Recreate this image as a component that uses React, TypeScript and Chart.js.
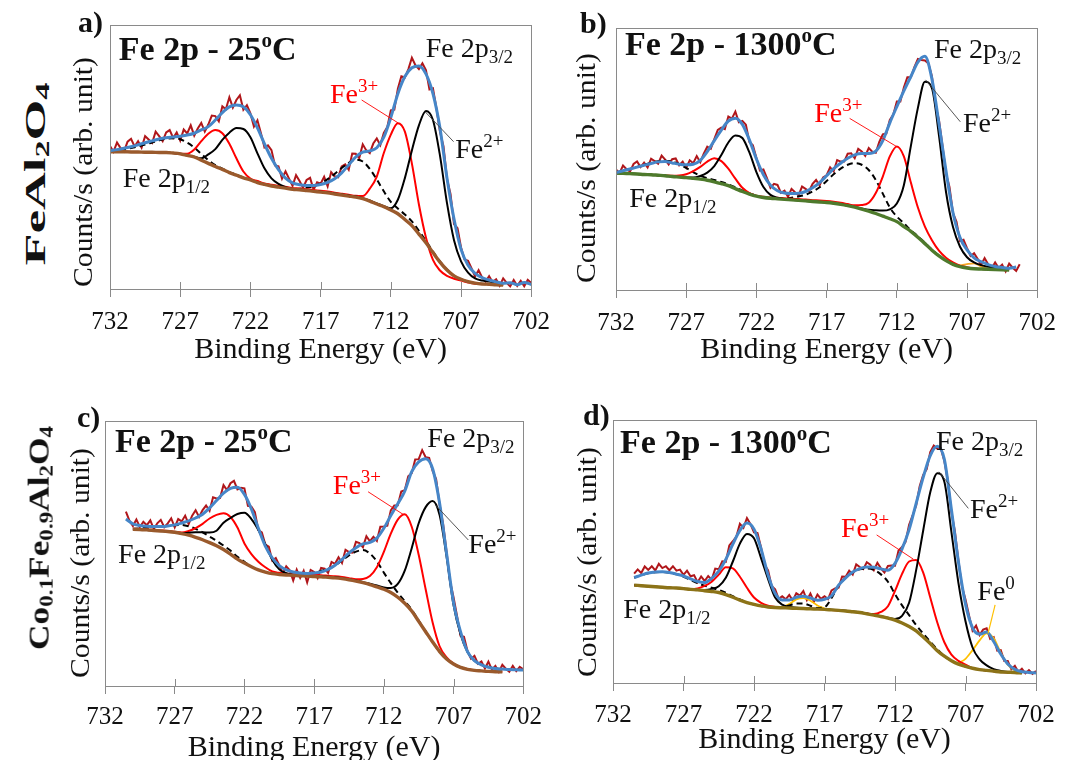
import React, { useEffect, useRef } from "react";
import { Chart, registerables } from "chart.js";
Chart.register(...registerables);

const FONT = '"Liberation Serif", "Times New Roman", Times, serif';

// ---------- shared energy grids (eV) ----------
const BE_FIT = [
  732, 731.5, 731, 730.5, 730, 729.5, 729, 728.5, 728, 727.5,
  727, 726.5, 726, 725.5, 725, 724.5, 724, 723.5, 723, 722.5,
  722, 721.5, 721, 720.5, 720, 719.5, 719, 718.5, 718, 717.5,
  717, 716.5, 716, 715.5, 715, 714.5, 714, 713.5, 713, 712.5,
  712, 711.5, 711, 710.5, 710, 709.5, 709, 708.5, 708, 707.5,
  707, 706.5, 706, 705.5, 705, 704.5, 704, 703.5, 703, 702.5, 702,
];
const BE_RAW = [
  732, 731.75, 731.5, 731.25, 731, 730.75, 730.5, 730.25, 730, 729.75,
  729.5, 729.25, 729, 728.75, 728.5, 728.25, 728, 727.75, 727.5, 727.25,
  727, 726.75, 726.5, 726.25, 726, 725.75, 725.5, 725.25, 725, 724.75,
  724.5, 724.25, 724, 723.75, 723.5, 723.25, 723, 722.75, 722.5, 722.25,
  722, 721.75, 721.5, 721.25, 721, 720.75, 720.5, 720.25, 720, 719.75,
  719.5, 719.25, 719, 718.75, 718.5, 718.25, 718, 717.75, 717.5, 717.25,
  717, 716.75, 716.5, 716.25, 716, 715.75, 715.5, 715.25, 715, 714.75,
  714.5, 714.25, 714, 713.75, 713.5, 713.25, 713, 712.75, 712.5, 712.25,
  712, 711.75, 711.5, 711.25, 711, 710.75, 710.5, 710.25, 710, 709.75,
  709.5, 709.25, 709, 708.75, 708.5, 708.25, 708, 707.75, 707.5, 707.25,
  707, 706.75, 706.5, 706.25, 706, 705.75, 705.5, 705.25, 705, 704.75,
  704.5, 704.25, 704, 703.75, 703.5, 703.25, 703, 702.75, 702.5, 702.25,
  702,
];
const TICK_VALUES = [732, 727, 722, 717, 712, 707, 702];

// ---------- panel a : FeAl2O4, 25 C ----------
const A_RAW = [
  54.2, 52.0, 55.5, 53.4, 52.1, 55.8, 56.9, 54.0, 56.0, 53.5,
  57.9, 56.6, 55.3, 59.6, 57.9, 56.0, 59.3, 60.2, 57.2, 59.3,
  56.2, 60.4, 58.9, 62.0, 58.1, 60.8, 62.9, 59.6, 62.3, 65.7,
  65.5, 63.5, 69.2, 68.1, 72.6, 68.7, 71.6, 73.4, 67.9, 69.6,
  66.5, 61.5, 63.9, 59.0, 53.6, 54.4, 52.6, 46.8, 46.5, 41.8,
  44.6, 41.8, 39.1, 43.1, 40.9, 38.4, 41.3, 42.1, 37.6, 40.4,
  39.9, 42.5, 38.9, 44.3, 42.7, 42.3, 46.4, 47.2, 45.2, 51.3,
  51.2, 49.6, 54.8, 52.5, 51.5, 55.1, 57.0, 54.5, 59.1, 61.4,
  67.7, 67.9, 75.9, 80.6, 80.1, 83.3, 87.6, 84.8, 83.3, 85.5,
  82.9, 75.6, 76.0, 68.3, 59.5, 54.1, 41.7, 36.0, 24.6, 23.0,
  15.7, 11.2, 10.7, 7.8, 4.7, 7.1, 4.4, 2.8, 4.9, 2.6,
  3.7, 1.2, 4.0, 2.3, 1.0, 3.4, 1.2, 3.1, 1.0, 3.5,
  2.3,
];
const A_ENV = [
  52.4, 52.8, 53.3, 53.9, 54.6, 55.4, 56.1, 56.8, 57.3, 57.6,
  57.9, 58.3, 59.0, 60.3, 61.5, 64.0, 66.8, 69.0, 69.7, 69.0,
  66.0, 61.0, 55.0, 49.5, 45.2, 42.0, 40.2, 39.5, 39.2, 39.2,
  39.6, 40.4, 41.8, 44.0, 47.0, 50.0, 51.8, 52.3, 53.5, 57.5,
  65.0, 74.0, 80.5, 83.8, 84.5, 81.5, 74.0, 61.0, 42.0, 26.5,
  15.0, 9.0, 5.9, 4.3, 3.4, 2.7, 2.2, 2.4, 1.6, 2.5,
  1.7,
];
const A_BG = [
  52.0, 52.0, 52.0, 51.9, 51.9, 51.8, 51.8, 51.7, 51.7, 51.5,
  51.2, 50.6, 50.0, 48.8, 47.6, 46.4, 45.3, 44.1, 43.1, 42.1,
  41.3, 40.3, 39.6, 39.0, 38.6, 38.2, 37.8, 37.6, 37.3, 37.0,
  36.7, 36.4, 36.0, 35.6, 35.2, 34.8, 34.2, 33.3, 32.2, 31.2,
  29.9, 28.5, 26.3, 24.0, 20.8, 17.5, 13.8, 10.2, 7.2, 5.0,
  3.7, 2.8, 2.2, 1.9, 1.8, 1.6, 1.5, null, null, null,
  null,
];
const A_FE2 = [
  52.0, 52.0, 52.0, 51.9, 51.9, 51.8, 51.8, 51.7, 51.7, 51.5,
  51.2, 50.6, 50.1, 49.5, 51.0, 53.0, 56.5, 59.2, 61.0, 60.6,
  57.5, 51.4, 45.7, 41.9, 39.8, 38.6, 37.9, 37.7, 37.4, 37.1,
  36.8, 36.6, 36.2, 35.8, 35.4, 35.0, 34.4, 33.5, 32.4, 31.4,
  30.6, 33.8, 42.0, 52.5, 62.0, 67.4, 64.0, 50.5, 32.5, 18.5,
  10.5, 6.2, 4.0, 3.2, 2.8, 2.3, 2.0, null, null, null,
  null,
];
const A_FE3 = [
  52.0, 52.0, 52.0, 51.9, 51.9, 51.8, 51.8, 51.7, 51.7, 51.5,
  51.2, 51.2, 52.8, 56.0, 58.8, 60.2, 59.0, 55.0, 49.5, 44.5,
  41.8, 40.9, 40.0, 39.5, 39.1, 38.7, 38.3, 38.1, 37.8, 37.5,
  37.2, 36.9, 36.5, 36.1, 35.7, 35.3, 35.2, 38.0, 42.6, 51.5,
  58.5, 62.8, 59.6, 47.5, 32.0, 19.5, 11.0, 7.0, 5.0, 3.9,
  3.2, 2.5, 2.0, 1.9, 1.8, 1.6, 1.5, null, null, null,
  null,
];
const A_SAT = [
  52.2, 52.5, 52.9, 53.4, 54.0, 54.7, 55.5, 56.3, 56.9, 57.1,
  56.7, 55.4, 53.6, 51.2, 48.8, 46.9, 45.6, 44.3, 43.3, 42.3,
  41.4, 40.5, 39.8, 39.2, 38.7, 38.2, 37.9, 38.0, 38.3, 38.9,
  40.0, 41.6, 43.6, 45.8, 47.8, 49.0, 48.3, 45.5, 41.5, 37.0,
  33.0, 30.5, 28.2, 25.6, 22.0, 18.2, 14.2, 10.5, 7.4, 5.0,
  3.7, 2.8, 2.2, 1.9, 1.8, 1.6, 1.5, null, null, null,
  null,
];

// ---------- panel b : FeAl2O4, 1300 C ----------
const B_RAW = [
  46.0, 44.6, 47.5, 46.1, 45.2, 48.1, 49.1, 46.9, 48.6, 46.8,
  50.1, 49.2, 48.2, 51.3, 49.8, 47.9, 49.9, 50.2, 47.6, 49.0,
  46.6, 49.5, 48.4, 51.1, 48.8, 52.0, 54.7, 53.9, 57.6, 61.1,
  62.0, 61.4, 66.2, 65.4, 68.1, 64.0, 64.5, 63.1, 56.5, 55.2,
  50.4, 45.6, 46.0, 42.7, 39.0, 40.5, 40.1, 37.1, 37.9, 35.6,
  38.6, 37.3, 36.1, 39.5, 38.6, 37.7, 40.5, 42.0, 39.9, 43.0,
  43.8, 46.8, 45.3, 49.6, 49.0, 49.0, 52.0, 52.2, 50.3, 53.9,
  52.9, 51.2, 54.2, 52.8, 52.4, 56.5, 59.4, 59.7, 64.9, 67.0,
  71.9, 71.9, 77.3, 81.2, 81.2, 85.1, 88.2, 87.8, 87.6, 86.5,
  81.5, 70.5, 64.9, 55.1, 44.5, 39.3, 29.3, 26.0, 18.7, 19.2,
  16.0, 13.0, 14.0, 11.9, 9.6, 12.2, 9.8, 8.3, 10.5, 8.4,
  9.7, 7.1, 10.1, 8.5, 7.3, 9.8, null, null, null, null,
  null,
];
const B_ENV = [
  44.8, 45.5, 46.2, 46.9, 47.6, 48.3, 48.9, 49.0, 48.5, 48.0,
  47.8, 48.0, 49.5, 52.8, 57.0, 61.0, 64.5, 65.6, 63.2, 57.3,
  50.0, 44.0, 40.0, 37.9, 37.0, 36.8, 36.9, 37.6, 39.0, 41.0,
  43.6, 46.3, 48.4, 50.3, 51.6, 52.1, 52.1, 53.0, 57.0, 63.8,
  70.0, 76.0, 81.5, 87.0, 89.2, 80.5, 63.5, 45.5, 29.5, 20.0,
  15.3, 12.3, 10.8, 9.7, 9.0, 8.6, 8.3, 8.8, null, null,
  null,
];
const B_BG = [
  44.6, 44.5, 44.4, 44.3, 44.1, 44.0, 43.8, 43.6, 43.3, 43.1,
  42.9, 42.6, 42.3, 41.9, 41.3, 40.6, 39.8, 38.7, 37.6, 36.6,
  35.8, 35.3, 35.0, 34.8, 34.6, 34.4, 34.2, 34.0, 33.8, 33.6,
  33.4, 33.1, 32.7, 32.2, 31.6, 30.9, 30.1, 29.2, 28.2, 27.2,
  26.1, 24.2, 22.4, 20.1, 17.7, 15.2, 13.0, 11.2, 9.8, 8.9,
  8.4, 8.1, 8.0, 7.9, 7.8, 7.7, 7.6, null, null, null,
  null,
];
const B_FE2 = [
  44.6, 44.5, 44.4, 44.3, 44.1, 44.0, 43.8, 43.6, 43.3, 43.1,
  42.9, 42.9, 43.5, 44.8, 47.3, 51.5, 56.3, 59.0, 58.0, 52.5,
  45.0, 39.3, 36.3, 35.2, 34.7, 34.4, 34.2, 34.0, 33.8, 33.6,
  33.4, 33.1, 32.7, 32.2, 31.7, 31.1, 30.6, 30.4, 30.3, 30.8,
  33.0, 40.0, 55.0, 69.5, 79.5, 77.0, 59.0, 37.5, 24.0, 16.5,
  12.5, 10.5, 9.5, 8.9, 8.5, 8.2, 7.9, null, null, null,
  null,
];
const B_FE3 = [
  44.6, 44.5, 44.4, 44.3, 44.1, 44.0, 43.8, 43.7, 43.6, 43.7,
  44.2, 45.4, 47.0, 49.0, 50.3, 49.2, 46.3, 42.5, 39.0, 37.0,
  36.0, 35.6, 35.3, 35.2, 35.0, 34.8, 34.7, 34.5, 34.3, 34.2,
  34.0, 33.7, 33.3, 32.8, 32.3, 32.4, 33.3, 37.0, 43.3, 51.0,
  54.8, 51.0, 41.0, 31.5, 24.2, 19.0, 15.0, 12.3, 10.5, 9.3,
  8.7, 8.2, 8.0, 7.9, 7.8, 7.7, 7.6, null, null, null,
  null,
];
const B_SAT = [
  44.8, 45.5, 46.2, 47.0, 47.8, 48.5, 49.1, 49.3, 49.0, 48.0,
  46.6, 45.0, 43.6, 42.7, 42.0, 41.2, 40.3, 39.2, 38.0, 36.9,
  36.0, 35.3, 35.0, 34.9, 34.9, 35.2, 35.7, 36.4, 37.6, 39.2,
  41.6, 44.2, 46.3, 47.8, 48.4, 47.8, 45.8, 42.0, 36.8, 31.5,
  28.0, 25.5, 22.8, 20.5, 18.0, 15.4, 13.1, 11.2, 9.8, 8.9,
  8.4, 8.1, 8.0, 7.9, 7.8, 7.7, 7.6, null, null, null,
  null,
];
const B_FE0 = [
  null, null, null, null, null, null, null, null, null, null,
  null, null, null, null, null, null, null, null, null, null,
  null, null, null, null, null, null, null, null, null, null,
  null, null, null, null, null, null, null, null, null, null,
  null, null, null, null, null, null, null, null, 9.8, 9.4,
  9.9, 10.2, 9.0, 8.1, null, null, null, null, null, null,
  null,
];

// ---------- panel c : Co0.1Fe0.9Al2O4, 25 C ----------
const C_RAW = [
  null, null, null, null, null, null, 65.8, 62.4, 60.4, 62.8,
  60.0, 62.0, 60.7, 62.5, 59.2, 61.4, 62.7, 59.9, 61.4, 63.3,
  59.9, 63.0, 62.1, 64.3, 61.1, 64.3, 66.3, 63.8, 66.4, 68.1,
  66.1, 71.2, 70.8, 70.9, 75.8, 73.9, 76.5, 77.4, 74.2, 74.8,
  74.6, 68.0, 67.7, 65.6, 58.8, 58.0, 53.4, 52.6, 47.3, 48.3,
  45.6, 42.4, 45.2, 43.7, 39.8, 43.9, 40.8, 43.5, 39.1, 43.8,
  43.0, 40.7, 44.6, 44.3, 42.7, 46.8, 46.1, 48.6, 46.4, 51.4,
  50.5, 50.3, 54.4, 53.9, 52.4, 56.5, 54.6, 56.3, 54.8, 60.1,
  60.2, 60.5, 66.3, 68.1, 68.2, 73.4, 73.9, 79.1, 80.3, 85.5,
  85.6, 89.0, 86.3, 86.1, 81.2, 78.1, 68.5, 61.3, 50.6, 39.5,
  33.5, 26.4, 19.0, 18.6, 13.2, 10.3, 11.4, 8.4, 9.3, 6.6,
  9.2, 6.2, 7.6, 5.3, 8.0, 6.5, 5.4, 7.6, 5.6, 7.2,
  6.3,
];
const C_ENV = [
  null, null, null, 63.0, 61.2, 60.6, 60.3, 60.2, 60.2, 60.4,
  60.8, 61.5, 62.3, 63.4, 64.8, 67.2, 70.0, 72.8, 74.6, 75.0,
  72.3, 66.8, 59.5, 52.8, 48.3, 45.4, 43.8, 43.0, 42.6, 42.5,
  42.6, 43.0, 44.0, 45.6, 47.8, 50.2, 52.2, 53.6, 54.2, 55.8,
  59.5, 64.3, 68.8, 73.5, 80.9, 84.6, 85.8, 82.0, 69.0, 50.0,
  31.5, 20.5, 13.0, 9.6, 8.0, 7.1, 6.6, 6.4, 6.2, 6.1,
  6.0,
];
const C_BG = [
  null, null, null, null, 59.1, 59.0, 58.9, 58.7, 58.5, 58.3,
  58.0, 57.5, 56.9, 56.1, 55.2, 54.1, 52.9, 51.5, 49.8, 47.9,
  46.4, 45.0, 43.8, 43.0, 42.4, 42.1, 41.9, 41.8, 41.6, 41.5,
  41.3, 41.2, 41.0, 40.8, 40.5, 40.1, 39.6, 39.0, 38.3, 37.4,
  36.5, 35.3, 33.5, 31.2, 28.3, 24.4, 20.5, 16.6, 13.0, 10.2,
  8.3, 7.0, 6.3, 5.9, 5.7, 5.5, 5.4, 5.4, null, null,
  null,
];
const C_FE2 = [
  null, null, null, null, 59.1, 59.0, 58.9, 58.7, 58.5, 58.3,
  58.0, 57.6, 57.8, 58.0, 58.0, 57.9, 58.6, 61.6, 63.4, 64.9,
  65.4, 63.0, 58.9, 53.5, 47.6, 44.0, 42.6, 42.0, 41.7, 41.6,
  41.5, 41.4, 41.2, 41.0, 40.7, 40.3, 39.8, 39.2, 38.6, 37.9,
  37.2, 37.0, 38.5, 43.5, 52.0, 61.4, 67.5, 69.8, 64.5, 48.8,
  30.5, 19.5, 12.8, 9.5, 8.0, 7.2, 6.6, 6.3, null, null,
  null,
];
const C_FE3 = [
  null, null, null, null, 59.3, 59.2, 59.1, 58.9, 58.7, 58.5,
  58.2, 57.9, 58.5, 59.6, 61.2, 63.2, 64.6, 65.2, 63.8, 59.8,
  53.8, 49.8, 46.9, 44.8, 43.2, 42.7, 42.5, 42.2, 42.2, 42.1,
  41.9, 41.8, 41.6, 41.4, 41.1, 40.7, 40.3, 40.4, 41.5, 44.8,
  50.6, 57.5, 62.8, 64.8, 60.1, 49.5, 36.5, 24.0, 15.0, 10.8,
  8.5, 7.1, 6.4, 5.9, 5.7, 5.5, 5.4, 5.4, null, null,
  null,
];
const C_SAT = [
  null, null, null, null, 59.3, 59.5, 59.7, 59.9, 60.1, 60.4,
  60.7, 60.8, 60.3, 59.3, 58.0, 56.4, 54.8, 53.0, 51.1, 48.8,
  46.9, 45.0, 43.8, 43.0, 42.4, 42.1, 41.9, 41.8, 41.7, 42.0,
  42.6, 43.4, 44.2, 45.5, 47.4, 49.3, 50.7, 51.3, 50.0, 47.0,
  42.8, 38.8, 35.2, 32.0, 28.8, 24.7, 20.6, 16.6, 13.0, 10.2,
  8.3, 7.0, 6.3, 5.9, 5.7, 5.5, 5.4, 5.4, null, null,
  null,
];

// ---------- panel d : Co0.1Fe0.9Al2O4, 1300 C ----------
const D_RAW = [
  null, null, null, null, null, null, 41.6, 43.2, 41.8, 44.3,
  43.0, 44.4, 42.8, 45.3, 43.7, 44.4, 42.9, 44.4, 42.7, 43.1,
  41.1, 42.7, 40.6, 41.0, 38.3, 40.5, 38.8, 40.7, 39.3, 43.5,
  43.3, 46.3, 46.1, 52.3, 53.9, 55.7, 60.5, 59.0, 62.7, 60.4,
  57.3, 57.0, 51.5, 45.0, 42.8, 36.9, 35.6, 32.0, 33.0, 31.8,
  33.5, 31.4, 34.1, 33.2, 35.0, 31.5, 34.0, 30.9, 33.6, 32.0,
  33.0, 31.9, 35.2, 36.0, 36.3, 40.5, 40.4, 42.7, 41.2, 45.1,
  44.1, 43.3, 45.9, 45.0, 42.9, 45.7, 43.6, 42.0, 44.5, 44.7,
  44.6, 50.4, 51.7, 53.7, 60.2, 63.7, 67.5, 74.8, 79.1, 81.3,
  87.8, 90.3, 89.1, 89.2, 84.4, 76.9, 65.0, 57.6, 46.4, 36.7,
  31.8, 25.7, 19.9, 21.8, 18.2, 20.3, 20.8, 16.8, 17.4, 12.3,
  12.5, 8.4, 8.4, 5.2, 6.5, 4.2, 5.4, 3.7, 4.9, 3.5,
  4.6,
];
const D_ENV = [
  null, null, null, 40.1, 41.0, 41.8, 42.2, 42.3, 42.0, 41.4,
  40.7, 39.6, 38.6, 38.2, 39.8, 42.5, 47.0, 52.8, 58.0, 60.8,
  58.5, 51.0, 41.0, 34.0, 31.6, 31.6, 32.6, 33.0, 32.3, 31.5,
  31.8, 33.2, 37.2, 40.0, 42.2, 43.5, 44.1, 44.0, 43.4, 42.9,
  45.5, 51.0, 58.3, 68.3, 78.2, 86.5, 90.0, 85.0, 66.0, 46.0,
  30.0, 21.0, 18.6, 19.4, 15.8, 11.0, 7.2, 5.2, 4.3, 4.0,
  3.8,
];
const D_BG = [
  null, null, null, 37.2, 37.0, 36.8, 36.6, 36.4, 36.2, 36.1,
  35.9, 35.6, 35.4, 35.1, 34.8, 34.4, 33.6, 32.6, 31.5, 30.6,
  29.9, 29.3, 28.9, 28.7, 28.6, 28.5, 28.4, 28.3, 28.2, 28.1,
  28.0, 27.8, 27.6, 27.4, 27.1, 26.8, 26.3, 25.8, 25.3, 24.7,
  23.9, 22.8, 21.5, 19.8, 17.5, 15.0, 12.3, 10.2, 8.5, 7.2,
  6.3, 5.6, 5.1, 4.8, 4.5, 4.2, 4.1, 4.0, 3.8, null,
  null,
];
const D_FE2 = [
  null, null, null, 37.2, 37.0, 36.8, 36.6, 36.4, 36.2, 36.1,
  35.9, 35.6, 35.4, 35.4, 35.8, 36.8, 40.0, 46.2, 53.0, 56.7,
  55.0, 47.5, 39.5, 32.5, 29.8, 29.0, 28.6, 28.4, 28.3, 28.2,
  28.1, 27.9, 27.7, 27.5, 27.2, 26.9, 26.4, 25.9, 25.4, 24.8,
  24.3, 25.5, 30.5, 42.9, 58.0, 72.5, 79.8, 76.5, 57.5, 38.0,
  23.5, 13.5, 9.0, 6.7, 5.3, 4.6, 4.2, 4.0, 3.8, null,
  null,
];
const D_FE3 = [
  null, null, null, 37.2, 37.0, 36.8, 36.6, 36.4, 36.2, 36.1,
  35.9, 35.6, 35.9, 36.9, 38.5, 41.2, 44.0, 43.6, 40.4, 36.2,
  32.5, 30.5, 29.4, 28.9, 28.6, 28.5, 28.4, 28.3, 28.2, 28.1,
  28.0, 27.8, 27.6, 27.4, 27.1, 26.8, 26.4, 26.2, 27.0, 29.2,
  35.0, 41.5, 46.2, 46.8, 42.0, 32.5, 23.0, 15.5, 10.8, 8.4,
  7.0, 5.6, 5.1, 4.8, 4.5, 4.2, 4.1, 4.0, 3.8, null,
  null,
];
const D_SAT = [
  null, null, null, 40.0, 41.0, 41.7, 42.1, 42.2, 41.9, 41.3,
  40.4, 39.2, 38.0, 37.0, 36.2, 35.4, 34.3, 33.0, 31.8, 30.6,
  29.9, 29.3, 28.9, 28.7, 28.7, 29.5, 30.2, 30.2, 29.4, 28.5,
  28.8, 32.3, 37.0, 40.0, 42.1, 43.2, 43.5, 43.0, 41.3, 38.5,
  33.8, 29.5, 25.8, 22.0, 18.8, 15.7, 12.8, 10.2, 8.5, 7.2,
  6.3, 5.6, 5.1, 4.8, 4.5, 4.2, 4.1, 4.0, 3.8, null,
  null,
];
const D_FE0 = [
  null, null, null, null, null, null, null, null, null, null,
  null, null, null, null, null, null, null, null, null, null,
  null, null, null, null, 28.7, 30.0, 31.8, 32.3, 31.3, 29.5,
  28.3, null, null, null, null, null, null, null, null, null,
  null, null, null, null, null, null, null, null, null, 7.6,
  9.2, 12.5, 16.2, 18.9, 17.0, 11.5, 7.0, 4.8, 4.0, null,
  null,
];

// ---------- styles ----------
const RAW_COLOR = "#B0161A";
const ENV_COLOR = "#4686C8";
const FE3_COLOR = "#FF0000";
const FE0_B_COLOR = "#F5A623";
const FE0_D_COLOR = "#FFC000";
const TEXT = "#111111";

type Part = { t: string; s: number; r?: number; b?: boolean };
type Label = { x: number; y: number; color: string; parts: Part[] };
type Leader = { x1: number; y1: number; x2: number; y2: number; color: string; w: number };

const title = (temp: string): Part[] => [
  { t: "Fe 2p - " + temp, s: 34, b: true },
  { t: "o", s: 21, r: 13, b: true },
  { t: "C", s: 34, b: true },
];
const sub = (main: string, s: string): Part[] => [
  { t: main, s: 28 },
  { t: s, s: 19, r: -6 },
];
const sup = (main: string, s: string): Part[] => [
  { t: main, s: 28 },
  { t: s, s: 19, r: 11 },
];

type Panel = {
  key: string;
  left: number; top: number; width: number; height: number;
  pad: { left: number; top: number; right: number; bottom: number };
  axisH: number; tickPad: number;
  bgColor: string; fe0Color: string;
  raw: (number | null)[]; env: (number | null)[]; bg: (number | null)[];
  fe2: (number | null)[]; fe3: (number | null)[]; sat: (number | null)[];
  fe0: (number | null)[] | null;
  letter: { t: string; x: number; y: number };
  yTitle: { x: number; y: number };
  labels: Label[];
  leaders: Leader[];
};

const PANELS: Panel[] = [
  {
    key: "a", left: 60, top: 0, width: 500, height: 370,
    pad: { left: 50, top: 25, right: 23, bottom: 2 }, axisH: 79, tickPad: 10,
    bgColor: "#9A5A2C", fe0Color: FE0_D_COLOR,
    raw: A_RAW, env: A_ENV, bg: A_BG, fe2: A_FE2, fe3: A_FE3, sat: A_SAT, fe0: null,
    letter: { t: "a)", x: 78, y: 32 },
    yTitle: { x: 85, y: 172 },
    labels: [
      { x: 731.37, y: 86.7, color: TEXT, parts: title("25") },
      { x: 709.52, y: 87.9, color: TEXT, parts: sub("Fe 2p", "3/2") },
      { x: 716.33, y: 70.5, color: FE3_COLOR, parts: sup("Fe", "3+") },
      { x: 707.41, y: 49.6, color: TEXT, parts: sup("Fe", "2+") },
      { x: 731.09, y: 38.6, color: TEXT, parts: sub("Fe 2p", "1/2") },
    ],
    leaders: [
      { x1: 714.08, y1: 71.6, x2: 711.48, y2: 62.9, color: FE3_COLOR, w: 0.9 },
      { x1: 707.53, y1: 55.8, x2: 709.57, y2: 67.2, color: "#444444", w: 0.9 },
    ],
  },
  {
    key: "b", left: 555, top: 0, width: 511, height: 370,
    pad: { left: 61, top: 28, right: 25, bottom: 2 }, axisH: 78, tickPad: 10,
    bgColor: "#4E7A2C", fe0Color: FE0_B_COLOR,
    raw: B_RAW, env: B_ENV, bg: B_BG, fe2: B_FE2, fe3: B_FE3, sat: B_SAT, fe0: B_FE0,
    letter: { t: "b)", x: 580, y: 33 },
    yTitle: { x: 588, y: 168 },
    labels: [
      { x: 731.36, y: 89.7, color: TEXT, parts: title("1300") },
      { x: 709.36, y: 88.4, color: TEXT, parts: sub("Fe 2p", "3/2") },
      { x: 717.88, y: 64.2, color: FE3_COLOR, parts: sup("Fe", "3+") },
      { x: 707.29, y: 60.4, color: TEXT, parts: sup("Fe", "2+") },
      { x: 731.06, y: 31.8, color: TEXT, parts: sub("Fe 2p", "1/2") },
    ],
    leaders: [
      { x1: 715.36, y1: 65.5, x2: 712.0, y2: 54.7, color: FE3_COLOR, w: 0.9 },
      { x1: 707.48, y1: 64.2, x2: 709.95, y2: 80.2, color: "#444444", w: 0.9 },
    ],
  },
  {
    key: "c", left: 50, top: 370, width: 500, height: 400,
    pad: { left: 55, top: 51, right: 21, bottom: 4 }, axisH: 80, tickPad: 8,
    bgColor: "#9A5A2C", fe0Color: FE0_D_COLOR,
    raw: C_RAW, env: C_ENV, bg: C_BG, fe2: C_FE2, fe3: C_FE3, sat: C_SAT, fe0: null,
    letter: { t: "c)", x: 77, y: 427 },
    yTitle: { x: 82, y: 563 },
    labels: [
      { x: 731.29, y: 88.3, color: TEXT, parts: title("25") },
      { x: 708.88, y: 90.1, color: TEXT, parts: sub("Fe 2p", "3/2") },
      { x: 715.66, y: 72.5, color: FE3_COLOR, parts: sup("Fe", "3+") },
      { x: 705.94, y: 50.1, color: TEXT, parts: sup("Fe", "2+") },
      { x: 731.06, y: 46.5, color: TEXT, parts: sub("Fe 2p", "1/2") },
    ],
    leaders: [
      { x1: 713.13, y1: 73.3, x2: 710.54, y2: 64.5, color: FE3_COLOR, w: 0.9 },
      { x1: 705.94, y1: 55.1, x2: 708.3, y2: 68.3, color: "#444444", w: 0.9 },
    ],
  },
  {
    key: "d", left: 555, top: 370, width: 511, height: 400,
    pad: { left: 58, top: 50, right: 30, bottom: 12 }, axisH: 75, tickPad: 9,
    bgColor: "#8C7318", fe0Color: FE0_D_COLOR,
    raw: D_RAW, env: D_ENV, bg: D_BG, fe2: D_FE2, fe3: D_FE3, sat: D_SAT, fe0: D_FE0,
    letter: { t: "d)", x: 583, y: 425 },
    yTitle: { x: 589, y: 562 },
    labels: [
      { x: 731.5, y: 87.5, color: TEXT, parts: title("1300") },
      { x: 709.09, y: 88.6, color: TEXT, parts: sub("Fe 2p", "3/2") },
      { x: 715.83, y: 55.6, color: FE3_COLOR, parts: sup("Fe", "3+") },
      { x: 706.68, y: 62.6, color: TEXT, parts: sup("Fe", "2+") },
      { x: 706.16, y: 31.6, color: TEXT, parts: sup("Fe", "0") },
      { x: 731.27, y: 24.6, color: TEXT, parts: sub("Fe 2p", "1/2") },
    ],
    leaders: [
      { x1: 713.3, y1: 56.3, x2: 710.7, y2: 47.1, color: FE3_COLOR, w: 0.9 },
      { x1: 706.8, y1: 66.4, x2: 708.88, y2: 80.3, color: "#444444", w: 0.9 },
      { x1: 704.9, y1: 29.7, x2: 705.4, y2: 18.9, color: FE0_D_COLOR, w: 1.2 },
    ],
  },
];

function drawParts(ctx: CanvasRenderingContext2D, x: number, y: number, parts: Part[], color: string) {
  let cx = x;
  ctx.fillStyle = color;
  ctx.textAlign = "left";
  ctx.textBaseline = "alphabetic";
  for (const p of parts) {
    ctx.font = `${p.b ? "bold " : ""}${p.s}px ${FONT}`;
    ctx.fillText(p.t, cx, y - (p.r || 0));
    cx += ctx.measureText(p.t).width;
  }
}

function makeOverlay(p: Panel) {
  return {
    id: "overlay_" + p.key,
    afterDraw(chart: any) {
      const { ctx, chartArea: ca, scales } = chart;
      const xs = scales.x;
      const ys = scales.y;
      ctx.save();
      ctx.strokeStyle = "#8a8a8a";
      ctx.lineWidth = 1;
      ctx.strokeRect(Math.round(ca.left) + 0.5, Math.round(ca.top) + 0.5,
        Math.round(ca.right - ca.left), Math.round(ca.bottom - ca.top));
      for (const v of TICK_VALUES) {
        const px = Math.round(xs.getPixelForValue(v)) + 0.5;
        ctx.beginPath();
        ctx.moveTo(px, ca.bottom - 7);
        ctx.lineTo(px, ca.bottom);
        ctx.stroke();
      }
      for (const l of p.leaders) {
        ctx.strokeStyle = l.color;
        ctx.lineWidth = l.w;
        ctx.beginPath();
        ctx.moveTo(xs.getPixelForValue(l.x1), ys.getPixelForValue(l.y1));
        ctx.lineTo(xs.getPixelForValue(l.x2), ys.getPixelForValue(l.y2));
        ctx.stroke();
      }
      for (const lb of p.labels) {
        drawParts(ctx, xs.getPixelForValue(lb.x), ys.getPixelForValue(lb.y), lb.parts, lb.color);
      }
      drawParts(ctx, p.letter.x - p.left, p.letter.y - p.top, [{ t: p.letter.t, s: 30, b: true }], TEXT);
      ctx.translate(p.yTitle.x - p.left, p.yTitle.y - p.top);
      ctx.rotate(-Math.PI / 2);
      ctx.scale(1.06, 1);
      ctx.font = `28px ${FONT}`;
      ctx.fillStyle = TEXT;
      ctx.textAlign = "center";
      ctx.textBaseline = "middle";
      ctx.fillText("Counts/s (arb. unit)", 0, 0);
      ctx.restore();
    },
  };
}

function pts(xs: number[], ys: (number | null)[]) {
  return xs.map((x, i) => ({ x, y: ys[i] }));
}

function makeConfig(p: Panel): any {
  const line = (label: string, data: any, color: string, width: number, extra: any = {}) => ({
    label, data, borderColor: color, backgroundColor: color, borderWidth: width,
    pointRadius: 0, fill: false, spanGaps: false, cubicInterpolationMode: "monotone", ...extra,
  });
  const datasets: any[] = [
    line("Envelope", pts(BE_FIT, p.env), ENV_COLOR, 3),
    line("Background", pts(BE_FIT, p.bg), p.bgColor, 3.4),
    line("Fe2+", pts(BE_FIT, p.fe2), "#000000", 2),
    line("Fe3+", pts(BE_FIT, p.fe3), FE3_COLOR, 2),
    line("Satellite", pts(BE_FIT, p.sat), "#000000", 2, { borderDash: [6, 4] }),
  ];
  if (p.fe0) datasets.push(line("Fe0", pts(BE_FIT, p.fe0), p.fe0Color, 1.8));
  datasets.push(line("Raw", pts(BE_RAW, p.raw), RAW_COLOR, 2, { cubicInterpolationMode: "default", tension: 0 }));

  return {
    type: "line",
    data: { datasets },
    plugins: [makeOverlay(p)],
    options: {
      animation: false,
      responsive: false,
      maintainAspectRatio: false,
      devicePixelRatio: 1,
      events: [],
      layout: { padding: p.pad },
      plugins: { legend: { display: false }, tooltip: { enabled: false } },
      scales: {
        x: {
          type: "linear",
          reverse: true,
          min: 702,
          max: 732,
          afterBuildTicks: (s: any) => { s.ticks = TICK_VALUES.map((v) => ({ value: v })); },
          afterFit: (s: any) => { s.height = p.axisH; },
          ticks: {
            autoSkip: false, maxRotation: 0, minRotation: 0, padding: p.tickPad,
            font: { family: FONT, size: 25, lineHeight: 1.2 }, color: TEXT,
            callback: (v: any) => String(v),
          },
          grid: { drawOnChartArea: false, drawTicks: true, tickLength: 8, color: "#8a8a8a", lineWidth: 1 },
          border: { display: false },
          title: {
            display: true, text: "Binding Energy (eV)", color: TEXT, padding: 0,
            font: { family: FONT, size: 30, lineHeight: 1.2 },
          },
        },
        y: { display: false, min: 0, max: 100 },
      },
    },
  };
}

function PanelChart({ p }: { p: Panel }) {
  const ref = useRef<HTMLCanvasElement>(null);
  useEffect(() => {
    const chart = new Chart(ref.current as HTMLCanvasElement, makeConfig(p));
    return () => chart.destroy();
  }, [p]);
  return (
    <canvas
      ref={ref}
      width={p.width}
      height={p.height}
      style={{ position: "absolute", left: p.left, top: p.top, width: p.width, height: p.height }}
    />
  );
}

const subStyle: React.CSSProperties = { fontSize: "0.65em", verticalAlign: "-0.22em" };

function RowLabel({ x, y, scale, children }: { x: number; y: number; scale: number; children: React.ReactNode }) {
  return (
    <div
      style={{
        position: "absolute", left: x, top: y, whiteSpace: "nowrap",
        fontFamily: FONT, fontWeight: "bold", fontSize: 30, lineHeight: 1, color: TEXT,
        transform: `translate(-50%, -50%) rotate(-90deg) scaleX(${scale})`,
      }}
    >
      {children}
    </div>
  );
}

export default function App() {
  return (
    <div style={{ position: "absolute", left: 0, top: 0, width: 1066, height: 760, overflow: "hidden", background: "#ffffff" }}>
      {PANELS.map((p) => (
        <PanelChart key={p.key} p={p} />
      ))}
      <RowLabel x={36} y={174} scale={1.75}>
        FeAl<sub style={subStyle}>2</sub>O<sub style={subStyle}>4</sub>
      </RowLabel>
      <RowLabel x={40} y={538} scale={1.18}>
        Co<sub style={subStyle}>0.1</sub>Fe<sub style={subStyle}>0.9</sub>Al<sub style={subStyle}>2</sub>O<sub style={subStyle}>4</sub>
      </RowLabel>
    </div>
  );
}
